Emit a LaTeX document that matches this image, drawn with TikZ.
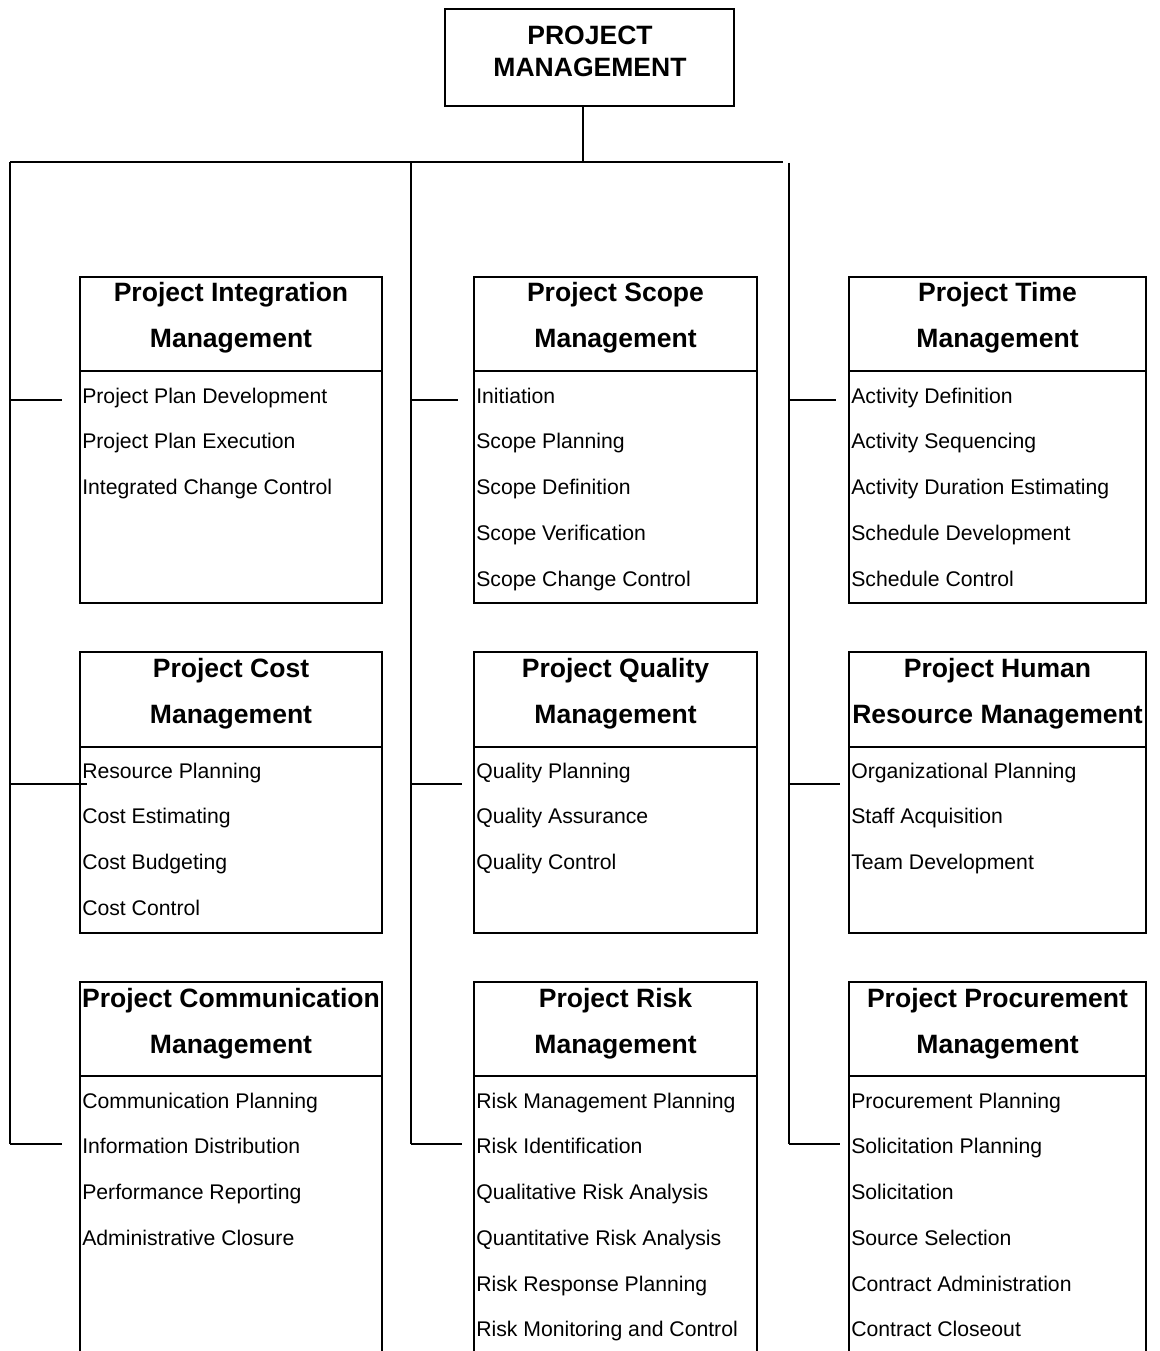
\documentclass[tikz,border=0pt]{standalone}
\usepackage{fontspec}
\setmainfont{Liberation Sans}
\begin{document}
\begin{tikzpicture}[x=0.75pt,y=-0.75pt,
  catbox/.style={draw,line width=1.5pt,rectangle,inner sep=0pt,outer sep=0pt,anchor=north west},
  sepline/.style={line width=1.5pt},
  conn/.style={line width=1pt},
  hd/.style={font=\fontsize{19.9}{24}\selectfont\bfseries,inner sep=0pt,anchor=base},
  itm/.style={font=\fontsize{15.9}{19}\selectfont,inner sep=0pt,anchor=base west}]
\useasboundingbox (0,0) rectangle (1159,1351);

% title
\node[catbox,minimum width=289*0.75pt,minimum height=97*0.75pt] (title) at (445,9) {};
\node[hd] (t1) at (590,45) {PROJECT};
\node[hd] (t2) at (590,77) {MANAGEMENT};

% boxes: name / left / top / width / height / separator
\foreach \nm/\bl/\bt/\bw/\bh/\bs in {
  b11/80/277/302/326/371, b12/474/277/283/326/371, b13/849/277/297/326/371,
  b21/80/652/302/281/747, b22/474/652/283/281/747, b23/849/652/297/281/747,
  b31/80/982/302/400/1076, b32/474/982/283/400/1076, b33/849/982/297/400/1076}
{
  \node[catbox,minimum width=\bw*0.75pt,minimum height=\bh*0.75pt] (\nm) at (\bl,\bt) {};
  \draw[sepline] (\bl,\bs) -- ++(\bw,0);
}

% headers
\node[hd] (h11a) at (231,302) {Project Integration};
\node[hd] (h11b) at (231,348) {Management};
\node[hd] (h12a) at (615.5,302) {Project Scope};
\node[hd] (h12b) at (615.5,348) {Management};
\node[hd] (h13a) at (997.5,302) {Project Time};
\node[hd] (h13b) at (997.5,348) {Management};
\node[hd] (h21a) at (231,677) {Project Cost};
\node[hd] (h21b) at (231,723) {Management};
\node[hd] (h22a) at (615.5,677) {Project Quality};
\node[hd] (h22b) at (615.5,723) {Management};
\node[hd] (h23a) at (997.5,677) {Project Human};
\node[hd] (h23b) at (997.5,723) {Resource Management};
\node[hd] (h31a) at (231,1007) {Project Communication};
\node[hd] (h31b) at (231,1053) {Management};
\node[hd] (h32a) at (615.5,1007) {Project Risk};
\node[hd] (h32b) at (615.5,1053) {Management};
\node[hd] (h33a) at (997.5,1007) {Project Procurement};
\node[hd] (h33b) at (997.5,1053) {Management};

% items
\foreach \t [count=\i from 0] in {Project Plan Development, Project Plan Execution, Integrated Change Control}
  \node[itm] (i11-\i) at (82,{403+45.75*\i}) {\t};
\foreach \t [count=\i from 0] in {Initiation, Scope Planning, Scope Definition, Scope Verification, Scope Change Control}
  \node[itm] (i12-\i) at (476,{403+45.75*\i}) {\t};
\foreach \t [count=\i from 0] in {Activity Definition, Activity Sequencing, Activity Duration Estimating, Schedule Development, Schedule Control}
  \node[itm] (i13-\i) at (851,{403+45.75*\i}) {\t};
\foreach \t [count=\i from 0] in {Resource Planning, Cost Estimating, Cost Budgeting, Cost Control}
  \node[itm] (i21-\i) at (82,{778+45.75*\i}) {\t};
\foreach \t [count=\i from 0] in {Quality Planning, Quality Assurance, Quality Control}
  \node[itm] (i22-\i) at (476,{778+45.75*\i}) {\t};
\foreach \t [count=\i from 0] in {Organizational Planning, Staff Acquisition, Team Development}
  \node[itm] (i23-\i) at (851,{778+45.75*\i}) {\t};
\foreach \t [count=\i from 0] in {Communication Planning, Information Distribution, Performance Reporting, Administrative Closure}
  \node[itm] (i31-\i) at (82,{1108+45.75*\i}) {\t};
\foreach \t [count=\i from 0] in {Risk Management Planning, Risk Identification, Qualitative Risk Analysis, Quantitative Risk Analysis, Risk Response Planning, Risk Monitoring and Control}
  \node[itm] (i32-\i) at (476,{1108+45.75*\i}) {\t};
\foreach \t [count=\i from 0] in {Procurement Planning, Solicitation Planning, Solicitation, Source Selection, Contract Administration, Contract Closeout}
  \node[itm] (i33-\i) at (851,{1108+45.75*\i}) {\t};

% connector coordinates
\coordinate (tdrop) at (583,106);
\coordinate (tbus) at (583,163);
\coordinate (busL) at (10,162);
\coordinate (busR) at (783,162);
\coordinate (vM0) at (411,162);
\coordinate (vR0) at (789,163);
\coordinate (vL1) at (10,400);  \coordinate (sL1) at (62,400);
\coordinate (vL2) at (10,784);  \coordinate (sL2) at (87,784);
\coordinate (vL3) at (10,1144); \coordinate (sL3) at (62,1144);
\coordinate (vM1) at (411,400); \coordinate (sM1) at (458,400);
\coordinate (vM2) at (411,784); \coordinate (sM2) at (462,784);
\coordinate (vM3) at (411,1144);\coordinate (sM3) at (462,1144);
\coordinate (vR1) at (789,400); \coordinate (sR1) at (836,400);
\coordinate (vR2) at (789,784); \coordinate (sR2) at (840,784);
\coordinate (vR3) at (789,1144);\coordinate (sR3) at (840,1144);

\draw[conn] (tdrop) -- (tbus);
\draw[conn] (busL) -- (busR);
\draw[conn] (busL) -- (vL3);
\draw[conn] (vM0) -- (vM3);
\draw[conn] (vR0) -- (vR3);
\foreach \a/\b in {vL1/sL1, vL2/sL2, vL3/sL3, vM1/sM1, vM2/sM2, vM3/sM3, vR1/sR1, vR2/sR2, vR3/sR3}
  \draw[conn] (\a) -- (\b);
\end{tikzpicture}
\end{document}
